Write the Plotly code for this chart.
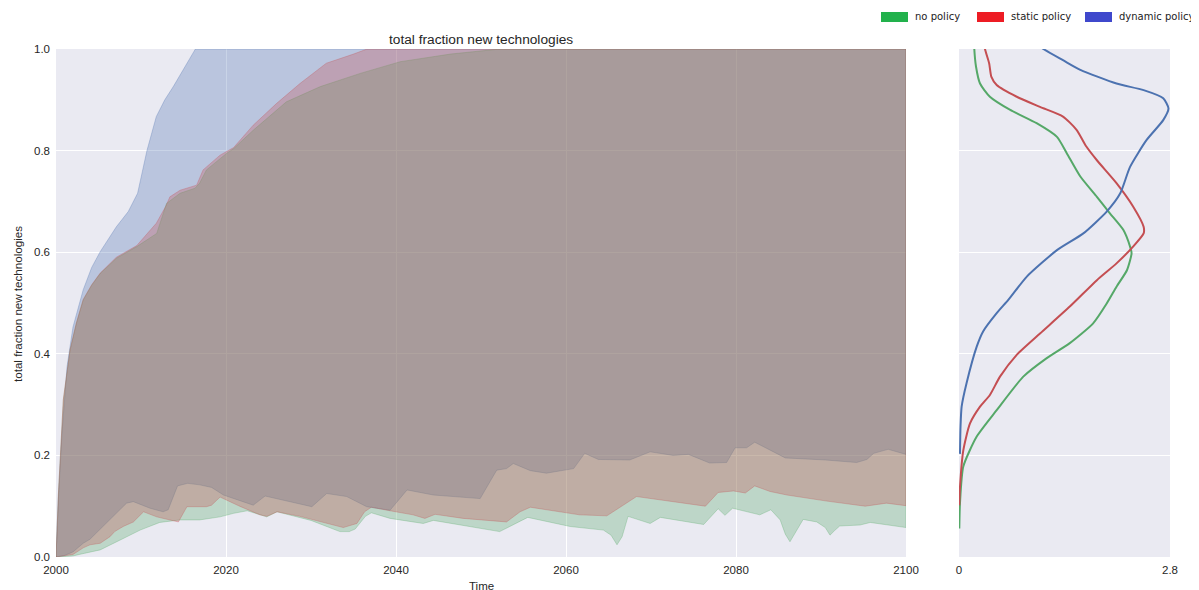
import plotly.graph_objects as go

# ---------------- data ----------------
# envelopes (min / max over runs) per policy
dyn_max_years = [2000, 2000.3, 2000.7, 2001.3, 2002.0, 2003.2, 2004.2, 2005.2, 2007.1, 2008.5, 2009.6,
                 2010.7, 2011.8, 2012.8, 2013.8, 2015.0, 2016.4, 2100]
dyn_max_vals = [0, 0.12, 0.243, 0.375, 0.453, 0.526, 0.57, 0.601, 0.65, 0.68, 0.716,
                0.80, 0.867, 0.90, 0.926, 0.96, 1.0, 1.0]

dyn_min_years = [2000, 2001, 2002, 2003.2, 2004.0, 2005.2, 2006.4, 2007.1, 2008.3, 2009.1, 2011.06, 2012.6,
                 2013.2, 2014.3, 2015.5, 2016.9, 2018.3, 2019.7, 2023.2, 2024.6, 2026.7, 2030.1, 2031.85,
                 2034.2, 2036.55, 2039.3, 2041.3, 2044.4, 2049.9, 2051.85, 2053.0, 2053.8, 2055.8, 2057.7,
                 2060.9, 2062.2, 2063.8, 2067.5, 2069.9, 2072.6, 2074.4, 2076.9, 2078.9, 2079.9, 2081.25,
                 2082.2, 2085.8, 2090.5, 2094.2, 2095.4, 2096.2, 2097.9, 2100]
dyn_min_vals = [0, 0.003, 0.01, 0.027, 0.035, 0.053, 0.073, 0.086, 0.106, 0.109, 0.096, 0.089,
                0.093, 0.14, 0.145, 0.142, 0.137, 0.122, 0.102, 0.12, 0.112, 0.099, 0.125,
                0.119, 0.099, 0.092, 0.132, 0.122, 0.115, 0.171, 0.174, 0.184, 0.17, 0.165,
                0.174, 0.204, 0.192, 0.191, 0.207, 0.2, 0.202, 0.185, 0.186, 0.215, 0.215,
                0.226, 0.195, 0.191, 0.186, 0.192, 0.204, 0.212, 0.202]

no_max_years = [2000, 2000.3, 2000.86, 2001.65, 2002.4, 2003.2, 2004.2, 2005.2, 2007.1, 2009.5, 2011.85,
                2013.0, 2014.6, 2016.35, 2016.9, 2017.7, 2020.1, 2020.9, 2023.2, 2027.1, 2031.1, 2035.8,
                2040.5, 2046.4, 2052.2, 2100]
no_max_vals = [0, 0.13, 0.309, 0.407, 0.46, 0.506, 0.535, 0.558, 0.588, 0.611, 0.637,
               0.696, 0.716, 0.726, 0.736, 0.762, 0.795, 0.804, 0.84, 0.896, 0.926, 0.952,
               0.975, 0.99, 1.0, 1.0]

no_min_years = [2000, 2002.0, 2003.0, 2005.2, 2007.5, 2009.9, 2012.2, 2014.6, 2016.9, 2019.3, 2020.9,
                2022.5, 2023.6, 2024.8, 2026.0, 2030.0, 2033.4, 2034.5, 2035.2, 2036.4, 2037.1, 2039.3,
                2043.2, 2044.4, 2052.2, 2053.8, 2055.5, 2060.5, 2064.4, 2065.3, 2066.0, 2066.6, 2067.3,
                2069.9, 2071.1, 2076.2, 2077.9, 2078.7, 2079.6, 2082.8, 2084.1, 2085.2, 2085.8, 2086.35,
                2086.9, 2087.9, 2089.5, 2090.5, 2091.06, 2091.6, 2092.2, 2094.6, 2095.8, 2100]
no_min_vals = [0, 0.002, 0.006, 0.014, 0.033, 0.053, 0.068, 0.073, 0.073, 0.079, 0.086,
               0.091, 0.086, 0.079, 0.089, 0.072, 0.05, 0.05, 0.055, 0.08, 0.087, 0.076,
               0.066, 0.072, 0.05, 0.063, 0.078, 0.06, 0.053, 0.043, 0.024, 0.04, 0.08,
               0.066, 0.078, 0.064, 0.095, 0.082, 0.096, 0.083, 0.093, 0.073, 0.045, 0.03,
               0.045, 0.074, 0.069, 0.058, 0.043, 0.052, 0.061, 0.063, 0.068, 0.058]

static_max_years = [2000, 2000.3, 2000.86, 2001.65, 2002.4, 2003.2, 2004.2, 2005.2, 2007.1, 2009.5, 2011.8,
                    2012.9, 2013.4, 2014.6, 2016.55, 2017.3, 2019.3, 2020.9, 2023.2, 2025.96, 2028.7,
                    2031.8, 2035.0, 2036.6, 2100]
static_max_vals = [0, 0.13, 0.31, 0.408, 0.461, 0.507, 0.536, 0.559, 0.59, 0.613, 0.657,
                   0.69, 0.709, 0.722, 0.732, 0.762, 0.791, 0.806, 0.85, 0.893, 0.932,
                   0.972, 0.99, 1.0, 1.0]

static_min_years = [2000, 2002.0, 2003.2, 2004.0, 2005.2, 2006.35, 2006.9, 2007.9, 2009.1, 2010.3, 2011.85,
                    2013.0, 2014.4, 2015.4, 2017.7, 2018.3, 2019.3, 2021.6, 2024.0, 2024.8, 2026.0, 2028.7,
                    2033.8, 2035.4, 2036.3, 2037.1, 2039.3, 2042.0, 2043.4, 2044.6, 2047.9, 2053.0, 2054.6,
                    2055.8, 2061.6, 2064.8, 2068.3, 2076.4, 2077.9, 2079.7, 2081.1, 2082.2, 2084.0, 2086.0,
                    2090.7, 2095.2, 2097.7, 2100]
static_min_vals = [0, 0.005, 0.018, 0.024, 0.027, 0.04, 0.05, 0.06, 0.069, 0.089, 0.079,
                   0.074, 0.069, 0.099, 0.099, 0.102, 0.118, 0.1, 0.083, 0.08, 0.089, 0.08,
                   0.058, 0.066, 0.089, 0.098, 0.091, 0.083, 0.076, 0.084, 0.076, 0.069, 0.089,
                   0.098, 0.083, 0.081, 0.119, 0.1, 0.127, 0.13, 0.126, 0.14, 0.129, 0.122,
                   0.11, 0.1, 0.106, 0.101]

# kernel density estimates of the final value (density on x, value on y)
kde_no_vals = [0.056, 0.106, 0.178, 0.237, 0.289, 0.355, 0.391, 0.421, 0.46, 0.499, 0.532, 0.565, 0.598,
               0.611, 0.644, 0.677, 0.709, 0.749, 0.795, 0.827, 0.854, 0.88, 0.906, 0.932, 0.965, 1.0, 1.02]
kde_no_dens = [0.004, 0.013, 0.057, 0.235, 0.50, 0.853, 1.16, 1.47, 1.78, 1.96, 2.09, 2.23, 2.29,
               2.27, 2.18, 2.0, 1.83, 1.61, 1.43, 1.30, 1.03, 0.68, 0.41, 0.279, 0.226, 0.203, 0.20]

kde_static_vals = [0.102, 0.138, 0.21, 0.263, 0.296, 0.319, 0.355, 0.398, 0.44, 0.493, 0.545, 0.578, 0.611,
                   0.637, 0.65, 0.69, 0.736, 0.781, 0.808, 0.841, 0.867, 0.886, 0.906, 0.929, 0.945, 0.972,
                   1.0, 1.02]
kde_static_dens = [0.004, 0.013, 0.057, 0.146, 0.279, 0.41, 0.544, 0.766, 1.075, 1.47, 1.83, 2.09, 2.31,
                   2.45, 2.45, 2.31, 2.09, 1.83, 1.69, 1.56, 1.38, 1.075, 0.766, 0.50, 0.43, 0.40,
                   0.345, 0.33]

kde_dyn_vals = [0.203, 0.256, 0.296, 0.342, 0.414, 0.444, 0.48, 0.506, 0.552, 0.604, 0.637, 0.68, 0.716,
                0.768, 0.821, 0.86, 0.883, 0.903, 0.919, 0.932, 0.959, 0.978, 1.0, 1.02]
kde_dyn_dens = [0.013, 0.02, 0.035, 0.1, 0.235, 0.32, 0.5, 0.654, 0.9, 1.30, 1.65, 1.96, 2.14,
                2.27, 2.49, 2.71, 2.78, 2.71, 2.45, 2.09, 1.61, 1.38, 1.12, 0.95]

legend_labels = ["no policy", "static policy", "dynamic policy"]
x_ticks = [2000, 2020, 2040, 2060, 2080, 2100]
y_ticks = [0.0, 0.2, 0.4, 0.6, 0.8, 1.0]

# ---------------- styling ----------------
# the page has an 8px body margin; size the figure so it fills the rest of the window
OFF = 8
W, H = 1199 - OFF, 590 - OFF
BG = "#EAEAF2"
TXT = "#262626"
FONT = "Liberation Sans, Arial, sans-serif"
C_BLUE = (76, 114, 176)
C_GREEN = (85, 168, 104)
C_RED = (196, 78, 82)
LEG_COLORS = ["#22B14C", "#ED1C24", "#3F48CC"]


def rgba(c, a):
    return f"rgba({c[0]},{c[1]},{c[2]},{a})"


def px(v):
    # window pixel -> paper fraction
    return (v - OFF) / W


def py(v):
    return 1 - (v - OFF) / H


fig = go.Figure()

# envelopes: blue, green, red (red on top)
for (xmax, ymax, xmin, ymin, col) in [
    (dyn_max_years, dyn_max_vals, dyn_min_years, dyn_min_vals, C_BLUE),
    (no_max_years, no_max_vals, no_min_years, no_min_vals, C_GREEN),
    (static_max_years, static_max_vals, static_min_years, static_min_vals, C_RED),
]:
    xs = list(xmax) + list(reversed(xmin))
    ys = list(ymax) + list(reversed(ymin))
    fig.add_trace(go.Scatter(
        x=xs, y=ys, mode="lines", fill="toself",
        fillcolor=rgba(col, 0.3), line=dict(color=rgba(col, 0.3), width=1),
        hoverinfo="skip", showlegend=False, xaxis="x", yaxis="y"))

# KDE lines
for dens, vals, col in [
    (kde_no_dens, kde_no_vals, C_GREEN),
    (kde_static_dens, kde_static_vals, C_RED),
    (kde_dyn_dens, kde_dyn_vals, C_BLUE),
]:
    fig.add_trace(go.Scatter(
        x=dens, y=vals, mode="lines", line=dict(color=rgba(col, 1), width=2, shape="spline", smoothing=0.6),
        hoverinfo="skip", showlegend=False, xaxis="x2", yaxis="y2"))

main_x_dom = [px(56), px(906)]
kde_x_dom = [px(959), px(1170)]
y_dom = [py(557), py(49)]

fig.update_layout(
    width=W, height=H,
    margin=dict(l=0, r=0, t=0, b=0, autoexpand=False),
    paper_bgcolor="white",
    plot_bgcolor=BG,
    font=dict(family=FONT, color=TXT, size=11),
    showlegend=False,
    xaxis=dict(domain=main_x_dom, range=[2000, 2100], tickvals=x_ticks, automargin=False,
               ticktext=[str(t) for t in x_ticks], showgrid=True, gridcolor="white", gridwidth=1,
               zeroline=False, showline=False, ticks="", tickfont=dict(size=11.5, color=TXT),
               ticklabelstandoff=4, anchor="y"),
    yaxis=dict(domain=y_dom, range=[0, 1], tickvals=y_ticks, ticktext=[f"{t:.1f}" for t in y_ticks],
               showgrid=True, gridcolor="white", gridwidth=1, zeroline=False, showline=False,
               automargin=False, ticks="", tickfont=dict(size=11.5, color=TXT),
               ticklabelstandoff=5, anchor="x"),
    xaxis2=dict(domain=kde_x_dom, range=[0, 2.8], tickvals=[0, 2.8], ticktext=["0", "2.8"],
                showgrid=False, zeroline=False, showline=False, ticks="", automargin=False,
                tickfont=dict(size=11.5, color=TXT), ticklabelstandoff=4, anchor="y2"),
    yaxis2=dict(domain=y_dom, range=[0, 1], tickvals=y_ticks, showticklabels=False,
                showgrid=True, gridcolor="white", gridwidth=1, zeroline=False, showline=False,
                automargin=False, ticks="", anchor="x2"),
)

annotations = [
    dict(text="total fraction new technologies", x=px(481), y=py(39), xref="paper", yref="paper",
         showarrow=False, xanchor="center", yanchor="middle", font=dict(size=13.7, color=TXT)),
    dict(text="total fraction new technologies", x=px(17), y=py(304), xref="paper", yref="paper",
         showarrow=False, xanchor="center", yanchor="middle", textangle=-90,
         font=dict(size=11.6, color=TXT)),
    dict(text="Time", x=px(481), y=py(578), xref="paper", yref="paper",
         showarrow=False, xanchor="center", yanchor="top", font=dict(size=11.5, color=TXT)),
]

# legend (top right)
shapes = []
leg_box_x = [881, 977, 1085]
for i, (lab, col) in enumerate(zip(legend_labels, LEG_COLORS)):
    x0 = leg_box_x[i]
    shapes.append(dict(type="rect", xref="paper", yref="paper",
                       x0=px(x0), x1=px(x0 + 27), y0=py(22), y1=py(12),
                       fillcolor=col, line=dict(width=0)))
    annotations.append(dict(text=lab, x=px(x0 + 32), y=py(17), xref="paper", yref="paper",
                            showarrow=False, xanchor="left", yanchor="middle",
                            font=dict(family="DejaVu Sans, Verdana, sans-serif", size=10, color="#222222")))

fig.update_layout(annotations=annotations, shapes=shapes)

fig.write_html("out.html")
